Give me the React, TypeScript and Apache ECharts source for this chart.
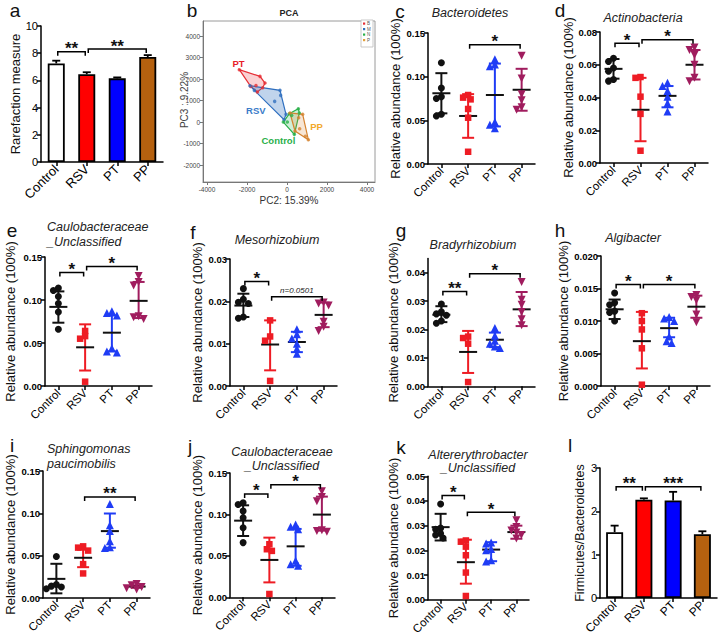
import React, { useEffect, useRef } from 'react';
import * as echarts from 'echarts';

const FONT = '"Liberation Sans", Arial, Helvetica, sans-serif';
const CATEGORIES = ['Control', 'RSV', 'PT', 'PP'];

// ---------- a: rarefaction measure (bar + upper error)
const A_MEAN = [7.25, 6.45, 6.15, 7.72];
const A_UPPER = [7.45, 6.6, 6.22, 7.86];
const A_SIG = [[0, 1, 8.1, '**'], [1, 3, 8.3, '**']];

// ---------- l: Firmicutes/Bacteroidetes
const L_MEAN = [1.52, 2.27, 2.25, 1.47];
const L_UPPER = [1.67, 2.3, 2.45, 1.54];
const L_SIG = [[0, 1, 2.57, '**'], [1, 3, 2.57, '***']];

// ---------- c: Bacteroidetes
const C_POINTS = [
  [0.116, 0.087, 0.077, 0.075, 0.057, 0.055],
  [0.079, 0.076, 0.074, 0.063, 0.053, 0.014],
  [0.12, 0.114, 0.112, 0.048, 0.045, 0.041],
  [0.124, 0.098, 0.08, 0.073, 0.065, 0.062],
];
const C_MEAN = [0.081, 0.055, 0.079, 0.085];
const C_LO = [0.058, 0.03, 0.043, 0.061];
const C_HI = [0.104, 0.08, 0.115, 0.109];
const C_SIG = [[1, 3, 0.1365, '*']];

// ---------- d: Actinobacteria
const D_POINTS = [
  [0.064, 0.062, 0.058, 0.056, 0.051, 0.05],
  [0.0525, 0.052, 0.0405, 0.03, 0.0075],
  [0.049, 0.047, 0.044, 0.0405, 0.0365, 0.0315],
  [0.0705, 0.069, 0.066, 0.06, 0.052, 0.05],
];
const D_MEAN = [0.0575, 0.0325, 0.041, 0.06];
const D_LO = [0.0515, 0.0133, 0.034, 0.051];
const D_HI = [0.0635, 0.052, 0.047, 0.069];
const D_SIG = [[0, 1, 0.0732, '*'], [1, 3, 0.0753, '*']];

// ---------- e: Caulobacteraceae _Unclassified
const E_POINTS = [
  [0.114, 0.111, 0.104, 0.096, 0.086, 0.066],
  [0.064, 0.058, 0.055, 0.005],
  [0.087, 0.085, 0.082, 0.044, 0.04, 0.039],
  [0.128, 0.121, 0.117, 0.081, 0.08, 0.078],
];
const E_MEAN = [0.092, 0.045, 0.062, 0.099];
const E_LO = [0.0736, 0.018, 0.0403, 0.079];
const E_HI = [0.11, 0.0717, 0.082, 0.121];
const E_SIG = [[0, 1, 0.132, '*'], [1, 3, 0.139, '*']];

// ---------- f: Mesorhizobium
const F_POINTS = [
  [0.023, 0.0205, 0.0198, 0.0195, 0.0163, 0.016],
  [0.0155, 0.0117, 0.0107, 0.0012],
  [0.0134, 0.0122, 0.0112, 0.01, 0.0088, 0.0076],
  [0.0197, 0.0195, 0.019, 0.0152, 0.014, 0.013],
];
const F_MEAN = [0.019, 0.0098, 0.0104, 0.0168];
const F_LO = [0.0163, 0.0037, 0.008, 0.0139];
const F_HI = [0.0218, 0.0155, 0.0128, 0.0197];
const F_SIG = [[0, 1, 0.0247, '*'], [1, 3, 0.0211, 'n=0.0501']];

// ---------- g: Bradyrhizobium
const G_POINTS = [
  [0.029, 0.0262, 0.0255, 0.025, 0.023, 0.0222],
  [0.0175, 0.017, 0.015, 0.0015],
  [0.0205, 0.0178, 0.016, 0.015, 0.014, 0.0135],
  [0.0367, 0.0305, 0.0287, 0.0262, 0.0236, 0.0215],
];
const G_MEAN = [0.0252, 0.0121, 0.0164, 0.0271];
const G_LO = [0.0226, 0.0047, 0.0138, 0.0212];
const G_HI = [0.0282, 0.0195, 0.0189, 0.0332];
const G_SIG = [[0, 1, 0.0334, '**'], [1, 3, 0.0396, '*']];

// ---------- h: Algibacter
const H_POINTS = [
  [0.0143, 0.0128, 0.0125, 0.0115, 0.0113, 0.01],
  [0.0112, 0.01, 0.0087, 0.0058, 0.0002],
  [0.0106, 0.0104, 0.01, 0.0076, 0.0069, 0.0066],
  [0.014, 0.0137, 0.0132, 0.011, 0.0098],
];
const H_MEAN = [0.0118, 0.0069, 0.0089, 0.0122];
const H_LO = [0.0103, 0.0027, 0.0075, 0.0105];
const H_HI = [0.0133, 0.0114, 0.0105, 0.0139];
const H_SIG = [[0, 1, 0.0156, '*'], [1, 3, 0.0156, '*']];

// ---------- i: Sphingomonas paucimobilis
const I_POINTS = [
  [0.049, 0.016, 0.014, 0.013, 0.011],
  [0.061, 0.0595, 0.056, 0.04, 0.029],
  [0.111, 0.086, 0.079, 0.067, 0.06, 0.059],
  [0.0165, 0.015, 0.013, 0.0115, 0.01],
];
const I_MEAN = [0.0226, 0.0475, 0.079, 0.0135];
const I_LO = [0.0055, 0.0364, 0.0594, 0.012];
const I_HI = [0.0404, 0.057, 0.0998, 0.015];
const I_SIG = [[1, 3, 0.1194, '**']];

// ---------- j: Caulobacteraceae _Unclassified
const J_POINTS = [
  [0.114, 0.112, 0.104, 0.096, 0.084, 0.066],
  [0.064, 0.058, 0.056, 0.004],
  [0.088, 0.085, 0.082, 0.044, 0.04, 0.038],
  [0.128, 0.121, 0.116, 0.081, 0.08, 0.079],
];
const J_MEAN = [0.0925, 0.0451, 0.0615, 0.0998];
const J_LO = [0.074, 0.018, 0.038, 0.0805];
const J_HI = [0.111, 0.072, 0.0825, 0.1215];
const J_SIG = [[0, 1, 0.1247, '*'], [1, 3, 0.1359, '*']];

// ---------- k: Altererythrobacter _Unclassified
const K_POINTS = [
  [0.0388, 0.029, 0.0285, 0.0268, 0.0262, 0.025],
  [0.024, 0.0235, 0.0215, 0.018, 0.011, 0.0015],
  [0.0232, 0.0228, 0.0205, 0.02, 0.016, 0.0155],
  [0.0322, 0.0295, 0.028, 0.0272, 0.0262, 0.0248],
];
const K_MEAN = [0.0294, 0.0152, 0.0203, 0.0274];
const K_LO = [0.024, 0.0065, 0.0156, 0.0247];
const K_HI = [0.0348, 0.0243, 0.0233, 0.03];
const K_SIG = [[0, 1, 0.0422, '*'], [1, 3, 0.0354, '*']];

// ---------- b: PCA (PC2, PC3)
const PCA_PT = [[-2383, 2434], [-1350, 2124], [-1100, 1814], [-1217, 1597], [-1483, 1395], [-1817, 1659], [-1550, 1700]];
const PCA_RSV = [[-1850, 1690], [-350, 1473], [-50, 357], [-150, 109], [-1633, 1473], [-317, 1240], [-617, 961]];
const PCA_CONTROL = [[-183, 0], [117, 388], [567, 620], [617, 419], [367, -574], [233, 310], [17, 0]];
const PCA_PP = [[150, 419], [783, 357], [1067, -822], [400, -419], [583, 202], [633, -310], [917, -667]];
const PCA_X_TICKS = [-4000, -2000, 0, 2000, 4000];
const PCA_Y_TICKS = [-2000, -1000, 0, 1000, 2000, 3000, 4000];

// ---------- styling
const GROUP_COLORS = ['#111111', '#ee1c24', '#1f3cf5', '#a01c5e'];
const GROUP_SYMBOLS = ['circle', 'rect', 'triangle', 'triangle'];
const GROUP_ROTATE = [0, 0, 0, 180];
const GROUP_SIZE = [7, 6.5, 8, 8];
const BAR_COLORS = ['#ffffff', '#ff0000', '#0000ff', '#b5610f'];

const SCATTER_PANELS = [
  { letter: 'c', lx: 400, ly: 11, title: ['Bacteroidetes'], tx: 470, ty: [13], talign: 'center', left: 428, top: 33, width: 107, bottom: 164, max: 0.15, interval: 0.05, dec: 2, nameX: 395, points: C_POINTS, mean: C_MEAN, lo: C_LO, hi: C_HI, sig: C_SIG },
  { letter: 'd', lx: 560, ly: 10, title: ['Actinobacteria'], tx: 643, ty: [18], talign: 'center', left: 600, top: 32, width: 108, bottom: 163, max: 0.08, interval: 0.02, dec: 2, nameX: 568, points: D_POINTS, mean: D_MEAN, lo: D_LO, hi: D_HI, sig: D_SIG },
  { letter: 'e', lx: 12, ly: 230.8, title: ['Caulobacteraceae', '_Unclassified'], tx: 47, ty: [227, 242], talign: 'left', left: 45, top: 257, width: 107, bottom: 386, max: 0.15, interval: 0.05, dec: 2, nameX: 10, points: E_POINTS, mean: E_MEAN, lo: E_LO, hi: E_HI, sig: E_SIG },
  { letter: 'f', lx: 193, ly: 232.8, title: ['Mesorhizobium'], tx: 277, ty: [240], talign: 'center', left: 230, top: 259, width: 107, bottom: 386, max: 0.03, interval: 0.01, dec: 2, nameX: 197, points: F_POINTS, mean: F_MEAN, lo: F_LO, hi: F_HI, sig: F_SIG },
  { letter: 'g', lx: 401, ly: 230.5, title: ['Bradyrhizobium'], tx: 473, ty: [245], talign: 'center', left: 428, top: 258.5, width: 107, bottom: 386.3, max: 0.045, interval: 0.01, dec: 2, nameX: 393, ticks: [0, 0.01, 0.02, 0.03, 0.04], points: G_POINTS, mean: G_MEAN, lo: G_LO, hi: G_HI, sig: G_SIG },
  { letter: 'h', lx: 560, ly: 230.8, title: ['Algibacter'], tx: 633, ty: [238], talign: 'center', left: 601, top: 256, width: 109, bottom: 386, max: 0.02, interval: 0.005, dec: 3, nameX: 568, points: H_POINTS, mean: H_MEAN, lo: H_LO, hi: H_HI, sig: H_SIG },
  { letter: 'i', lx: 12, ly: 445.8, title: ['Sphingomonas', 'paucimobilis'], tx: 47, ty: [449, 464], talign: 'left', left: 43, top: 471, width: 107, bottom: 598, max: 0.15, interval: 0.05, dec: 2, nameX: 10, points: I_POINTS, mean: I_MEAN, lo: I_LO, hi: I_HI, sig: I_SIG },
  { letter: 'j', lx: 190, ly: 446.8, title: ['Caulobacteraceae', '_Unclassified'], tx: 282, ty: [451.5, 465.5], talign: 'center', left: 230, top: 473, width: 105, bottom: 597.3, max: 0.15, interval: 0.05, dec: 2, nameX: 197, points: J_POINTS, mean: J_MEAN, lo: J_LO, hi: J_HI, sig: J_SIG },
  { letter: 'k', lx: 401, ly: 447.8, title: ['Altererythrobacter', '_Unclassified'], tx: 478, ty: [455, 468], talign: 'center', left: 428, top: 476.3, width: 101, bottom: 599.7, max: 0.05, interval: 0.01, dec: 2, nameX: 393, points: K_POINTS, mean: K_MEAN, lo: K_LO, hi: K_HI, sig: K_SIG },
];

function textStyle(extra: any) {
  return { fontFamily: FONT, fill: '#111', ...extra, align: extra.align, verticalAlign: extra.verticalAlign, textAlign: extra.align, textVerticalAlign: extra.verticalAlign };
}

// compact beeswarm: pixel offsets so that points overlap only partially
function swarm(vals: number[], pxPerUnit: number, minDist: number): number[] {
  const order = vals.map((_, i) => i).sort((a, b) => vals[b] - vals[a]);
  const offs = new Array(vals.length).fill(0);
  const placed: number[][] = [];
  const cands = [0, -2.5, 2.5, -5, 5, -7.5, 7.5, -10, 10];
  order.forEach((id) => {
    const y = vals[id] * pxPerUnit;
    let chosen = cands[cands.length - 1];
    for (const c of cands) {
      if (placed.every((p) => Math.hypot(p[0] - c, p[1] - y) >= minDist)) { chosen = c; break; }
    }
    offs[id] = chosen;
    placed.push([chosen, y]);
  });
  return offs;
}

function hull(pts: number[][]): number[][] {
  const p = pts.slice().sort((a, b) => (a[0] - b[0]) || (a[1] - b[1]));
  const cross = (o: number[], a: number[], b: number[]) => (a[0] - o[0]) * (b[1] - o[1]) - (a[1] - o[1]) * (b[0] - o[0]);
  const lower: number[][] = [];
  for (const q of p) { while (lower.length >= 2 && cross(lower[lower.length - 2], lower[lower.length - 1], q) <= 0) lower.pop(); lower.push(q); }
  const upper: number[][] = [];
  for (let i = p.length - 1; i >= 0; i--) { const q = p[i]; while (upper.length >= 2 && cross(upper[upper.length - 2], upper[upper.length - 1], q) <= 0) upper.pop(); upper.push(q); }
  upper.pop(); lower.pop();
  return lower.concat(upper);
}

function catAxis(gi: number, fontSize: number) {
  return {
    type: 'category', gridIndex: gi, data: CATEGORIES, boundaryGap: true,
    axisLine: { show: true, onZero: false, lineStyle: { color: '#000', width: 1.5 } },
    axisTick: { show: true, alignWithLabel: true, length: 4, lineStyle: { color: '#000', width: 1.5 } },
    axisLabel: { rotate: 45, fontSize, color: '#000', margin: 5, fontFamily: FONT, interval: 0 },
    splitLine: { show: false },
  };
}

function valAxis(gi: number, max: number, interval: number, dec: number, opts: any) {
  const ax: any = {
    type: 'value', gridIndex: gi, min: 0, max, interval,
    axisLine: { show: true, onZero: false, lineStyle: { color: '#000', width: 1.5 } },
    axisTick: { show: true, length: 4, lineStyle: { color: '#000', width: 1.5 } },
    axisLabel: { fontSize: opts.labelSize, fontWeight: opts.bold ? 'bold' : 'normal', color: '#000', margin: 3, fontFamily: FONT, formatter: (v: number) => v.toFixed(dec) },
    splitLine: { show: false },
    name: opts.name, nameLocation: 'middle', nameGap: opts.nameGap,
    nameTextStyle: { fontSize: opts.nameSize, color: '#111', fontFamily: FONT },
  };
  if (opts.ticks) {
    ax.axisTick.customValues = opts.ticks;
    ax.axisLabel.customValues = opts.ticks;
  }
  return ax;
}

function sigSeries(xi: number, yi: number, sig: any[], starSize: number) {
  return {
    type: 'custom', xAxisIndex: xi, yAxisIndex: yi, z: 5,
    data: sig.map((s) => [s[0], s[2], s[1]]),
    renderItem: (params: any, api: any) => {
      const s = sig[params.dataIndex];
      const p1 = api.coord([s[0], s[2]]);
      const p2 = api.coord([s[1], s[2]]);
      const x1 = p1[0] + 1.5, x2 = p2[0] - 1.5, y = p1[1];
      const isN = String(s[3]).startsWith('n');
      return {
        type: 'group', children: [
          { type: 'polyline', shape: { points: [[x1, y + 4], [x1, y], [x2, y], [x2, y + 4]] }, style: { stroke: '#000', lineWidth: 1.5, fill: null } },
          {
            type: 'text', x: (x1 + x2) / 2, y: isN ? y - 6 : y - 3,
            style: textStyle(isN
              ? { text: s[3], fontSize: 8, fontStyle: 'italic', fill: '#222', align: 'center', verticalAlign: 'middle' }
              : { text: s[3], fontSize: starSize, fontWeight: 'bold', fill: '#111', align: 'center', verticalAlign: 'middle' }),
          },
        ],
      };
    },
  };
}

function buildOption() {
  const grid: any[] = [];
  const xAxis: any[] = [];
  const yAxis: any[] = [];
  const series: any[] = [];
  const graphic: any[] = [];
  const letter = (t: string, x: number, y: number) => graphic.push({ type: 'text', x, y, z: 10, style: textStyle({ text: t, fontSize: 19, fill: '#111', align: 'center', verticalAlign: 'middle' }) });

  // ---- bar panels a & l
  const barPanels = [
    { letter: 'a', lx: 15, ly: 10, left: 41, top: 26, width: 122, height: 136, max: 10, interval: 2, mean: A_MEAN, upper: A_UPPER, sig: A_SIG, name: 'Rarefaction measure', nameSize: 13, nameX: 17, xSize: 13 },
    { letter: 'l', lx: 570, ly: 445.8, left: 600, top: 468, width: 117, height: 130, max: 3, interval: 1, mean: L_MEAN, upper: L_UPPER, sig: L_SIG, name: 'Firmicutes/Bacteroidetes', nameSize: 12.5, nameX: 582, xSize: 12 },
  ];
  barPanels.forEach((P) => {
    const gi = grid.length;
    grid.push({ left: P.left, top: P.top, width: P.width, height: P.height });
    xAxis.push(catAxis(gi, P.xSize));
    yAxis.push(valAxis(gi, P.max, P.interval, 0, { labelSize: 11, bold: false, name: P.name, nameGap: P.left - P.nameX - P.nameSize / 2, nameSize: P.nameSize }));
    series.push({
      type: 'bar', xAxisIndex: gi, yAxisIndex: gi, barWidth: 17,
      data: P.mean.map((v, i) => ({ value: v, itemStyle: { color: BAR_COLORS[i] } })),
      itemStyle: { borderColor: '#000', borderWidth: 1.8 },
    });
    series.push({
      type: 'custom', xAxisIndex: gi, yAxisIndex: gi, z: 4,
      data: P.mean.map((v, i) => [i, v, P.upper[i]]),
      renderItem: (params: any, api: any) => {
        const a = api.coord([api.value(0), api.value(1)]);
        const b = api.coord([api.value(0), api.value(2)]);
        return {
          type: 'group', children: [
            { type: 'line', shape: { x1: a[0], y1: a[1], x2: b[0], y2: b[1] }, style: { stroke: '#000', lineWidth: 1.8 } },
            { type: 'line', shape: { x1: b[0] - 4, y1: b[1], x2: b[0] + 4, y2: b[1] }, style: { stroke: '#000', lineWidth: 1.8 } },
          ],
        };
      },
    });
    series.push(sigSeries(gi, gi, P.sig, 17));
    letter(P.letter, P.lx, P.ly);
  });

  // ---- scatter panels
  SCATTER_PANELS.forEach((P: any) => {
    const gi = grid.length;
    const height = P.bottom - P.top;
    grid.push({ left: P.left, top: P.top, width: P.width, height });
    xAxis.push(catAxis(gi, 11.5));
    yAxis.push(valAxis(gi, P.max, P.interval, P.dec, { labelSize: 9.5, bold: true, name: 'Relative abundance (100%)', nameGap: P.left - P.nameX - 6.5, nameSize: 13, ticks: P.ticks }));
    const ppu = height / P.max;
    series.push({
      type: 'custom', xAxisIndex: gi, yAxisIndex: gi, z: 2,
      data: P.mean.map((m: number, g: number) => [g, m, P.lo[g], P.hi[g]]),
      renderItem: (params: any, api: any) => {
        const g = api.value(0);
        const pm = api.coord([g, api.value(1)]);
        const pl = api.coord([g, api.value(2)]);
        const ph = api.coord([g, api.value(3)]);
        const st = { stroke: GROUP_COLORS[g], lineWidth: 2 };
        const x = pm[0];
        return {
          type: 'group', children: [
            { type: 'line', shape: { x1: x, y1: pl[1], x2: x, y2: ph[1] }, style: st },
            { type: 'line', shape: { x1: x - 6, y1: pl[1], x2: x + 6, y2: pl[1] }, style: st },
            { type: 'line', shape: { x1: x - 6, y1: ph[1], x2: x + 6, y2: ph[1] }, style: st },
            { type: 'line', shape: { x1: x - 9, y1: pm[1], x2: x + 9, y2: pm[1] }, style: { stroke: '#111', lineWidth: 2 } },
          ],
        };
      },
    });
    P.points.forEach((vals: number[], g: number) => {
      const offs = swarm(vals, ppu, 5);
      series.push({
        type: 'scatter', xAxisIndex: gi, yAxisIndex: gi, z: 3,
        symbol: GROUP_SYMBOLS[g], symbolSize: GROUP_SIZE[g], symbolRotate: GROUP_ROTATE[g],
        itemStyle: { color: GROUP_COLORS[g], opacity: 1 },
        data: vals.map((v, k) => ({ value: [g, v], symbolOffset: [offs[k], 0] })),
      });
    });
    series.push(sigSeries(gi, gi, P.sig, 17));
    letter(P.letter, P.lx, P.ly);
    P.title.forEach((t: string, k: number) => {
      graphic.push({ type: 'text', x: P.tx, y: P.ty[k], style: textStyle({ text: t, fontSize: 12.5, fontStyle: 'italic', fill: '#222', align: P.talign, verticalAlign: 'middle' }) });
    });
  });

  // ---- PCA panel b
  {
    const gi = grid.length;
    grid.push({ left: 203, top: 21, width: 172, height: 161, show: true, borderColor: '#9a9a9a', borderWidth: 1, backgroundColor: 'transparent' });
    const gray = { color: '#777', width: 1 };
    xAxis.push({
      type: 'value', gridIndex: gi, min: -4200, max: 4400,
      axisLine: { show: true, onZero: false, lineStyle: gray },
      axisTick: { show: true, length: 3, lineStyle: gray, customValues: PCA_X_TICKS },
      axisLabel: { fontSize: 6.5, color: '#444', margin: 4, fontFamily: FONT, customValues: PCA_X_TICKS, formatter: (v: number) => String(v) },
      splitLine: { show: false },
      name: 'PC2: 15.39%', nameLocation: 'middle', nameGap: 13, nameTextStyle: { fontSize: 10, color: '#333', fontFamily: FONT },
    });
    yAxis.push({
      type: 'value', gridIndex: gi, min: -2790, max: 4700,
      axisLine: { show: true, onZero: false, lineStyle: gray },
      axisTick: { show: true, length: 3, lineStyle: gray, customValues: PCA_Y_TICKS },
      axisLabel: { fontSize: 6.5, color: '#444', margin: 3, fontFamily: FONT, customValues: PCA_Y_TICKS, formatter: (v: number) => String(v) },
      splitLine: { show: false },
    });
    const groups = [
      { pts: PCA_PT, color: '#e62e35', fill: 'rgba(230,46,53,0.22)', label: 'PT', labelColor: '#e8202a', lp: [-2420, 2700] },
      { pts: PCA_RSV, color: '#2f6fbf', fill: 'rgba(47,111,191,0.3)', label: 'RSV', labelColor: '#3a7cc9', lp: [-1560, 540] },
      { pts: PCA_CONTROL, color: '#2bb04a', fill: 'rgba(43,176,74,0.22)', label: 'Control', labelColor: '#29b04a', lp: [-430, -850] },
      { pts: PCA_PP, color: '#d5832f', fill: 'rgba(213,131,47,0.2)', label: 'PP', labelColor: '#f2a92a', lp: [1480, -200] },
    ];
    groups.forEach((G) => {
      series.push({
        type: 'custom', xAxisIndex: gi, yAxisIndex: gi, z: 2,
        data: [G.pts[0]],
        renderItem: (params: any, api: any) => {
          const poly = hull(G.pts).map((p) => api.coord(p));
          const lp = api.coord(G.lp);
          return {
            type: 'group', children: [
              { type: 'polygon', shape: { points: poly }, style: { fill: G.fill, stroke: G.color, lineWidth: 1.2 } },
              { type: 'text', x: lp[0], y: lp[1], style: textStyle({ text: G.label, fontSize: 9.5, fontWeight: 'bold', fill: G.labelColor, align: 'center', verticalAlign: 'middle' }) },
            ],
          };
        },
      });
      series.push({
        type: 'scatter', xAxisIndex: gi, yAxisIndex: gi, z: 3, symbolSize: 3.5,
        itemStyle: { color: G.color }, data: G.pts,
      });
    });
    graphic.push({ type: 'text', x: 289, y: 12.5, style: textStyle({ text: 'PCA', fontSize: 9, fontWeight: 'bold', fill: '#222', align: 'center', verticalAlign: 'middle' }) });
    graphic.push({ type: 'text', x: 184, y: 100, rotation: Math.PI / 2, style: textStyle({ text: 'PC3 : 9.22%', fontSize: 10, fill: '#444', align: 'center', verticalAlign: 'middle' }) });
    // legend box
    const legendItems = [['B', '#e62e35'], ['M', '#2f6fbf'], ['N', '#2bb04a'], ['P', '#e3a03a']];
    graphic.push({ type: 'rect', shape: { x: 361, y: 20, width: 12, height: 27 }, style: { fill: '#fff', stroke: '#bbb', lineWidth: 0.8 } });
    legendItems.forEach((it, k) => {
      graphic.push({ type: 'rect', shape: { x: 363, y: 22.5 + k * 5.5, width: 2.2, height: 2.2 }, style: { fill: it[1] } });
      graphic.push({ type: 'text', x: 367, y: 23.6 + k * 5.5, style: textStyle({ text: it[0], fontSize: 4.5, fill: '#555', align: 'left', verticalAlign: 'middle' }) });
    });
    letter('b', 192, 10);
  }

  return { animation: false, backgroundColor: '#ffffff', textStyle: { fontFamily: FONT }, grid, xAxis, yAxis, series, graphic };
}

export default function App() {
  const ref = useRef<HTMLDivElement>(null);
  useEffect(() => {
    if (!ref.current) return;
    const chart = echarts.init(ref.current, undefined, { renderer: 'svg' });
    chart.setOption(buildOption() as any);
    return () => chart.dispose();
  }, []);
  return <div ref={ref} style={{ position: 'absolute', left: 0, top: 0, width: 720, height: 638, background: '#fff' }} />;
}
